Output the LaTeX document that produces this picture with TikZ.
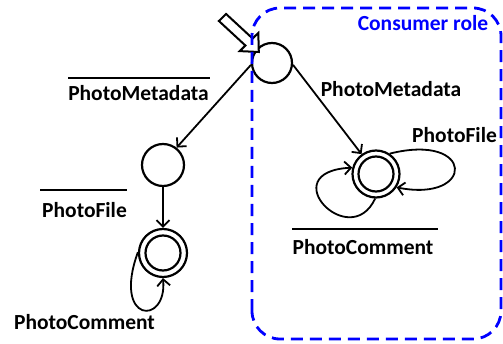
\documentclass[tikz,border=0pt]{standalone}
\usepackage{fontspec}
\setmainfont{Carlito}
\usetikzlibrary{arrows.meta}
\begin{document}
\begin{tikzpicture}[x=1pt,y=1pt,
  state/.style={circle,draw,line width=2.2pt,minimum size=40pt,inner sep=0pt},
  acc/.style={circle,draw,line width=2.2pt,minimum size=48pt,inner sep=0pt},
  edge/.style={line width=1.8pt,-{Straight Barb[length=6.5pt,width=13pt,line width=1.8pt]}},
  lbl/.style={font=\fontsize{21.5}{24}\selectfont\bfseries,inner sep=0pt},
  ovl/.style={line width=2pt}]
\useasboundingbox (0,0) rectangle (503,343);
% states
\node[state] (q0) at (272,280) {};
\node[state,minimum size=42pt] (q1) at (163,178) {};
\node[acc] (q2) at (163,90) {};
\draw[line width=2.2pt] (q2.center) circle (17.5pt);
\node[acc,minimum size=47pt] (q3) at (376,169) {};
\draw[line width=2.2pt] (q3.center) circle (17.5pt);
% initial arrow
\draw[line width=2pt,fill=white,line join=miter]
  (226.1,329) -- (252.6,304.5) -- (258.3,310.1) -- (258.8,291) -- (239.7,291.9)
  -- (245.4,297.5) -- (218.9,322) -- cycle;
% edges
\draw[edge] (q0.185) -- (q1.52);
\draw[edge] (q0.-5) -- (q3.126);
\draw[edge] (q1.south) -- (q2.north);
\draw[edge] (q2.178) to[out=250,in=275,out distance=76pt,in distance=48pt] (q2.270);
\draw[edge] (q3.56) to[out=14,in=-11,out distance=88pt,in distance=80pt] (q3.-33);
\draw[edge] (q3.268) to[out=245,in=183,out distance=60pt,in distance=80pt] (q3.165);
% labels
\node[lbl] (l1) at (138.5,250) {PhotoMetadata};
\draw[ovl] (68,265) -- (210,265);
\node[lbl] (l2) at (84.5,133) {PhotoFile};
\draw[ovl] (40,153) -- (127,153);
\node[lbl] (l3) at (84.5,21) {PhotoComment};
\node[lbl] (l4) at (391,254) {PhotoMetadata};
\node[lbl] (l5) at (454.5,208) {PhotoFile};
\node[lbl] (l6) at (363,96) {PhotoComment};
\draw[ovl] (292,114) -- (438,114);
% consumer role box
\draw[blue,line width=2.8pt,dash pattern=on 12pt off 7pt,rounded corners=28pt]
  (252,4) rectangle (501,335);
\node[lbl,text=blue] (cr) at (423,320) {Consumer role};
\end{tikzpicture}
\end{document}
